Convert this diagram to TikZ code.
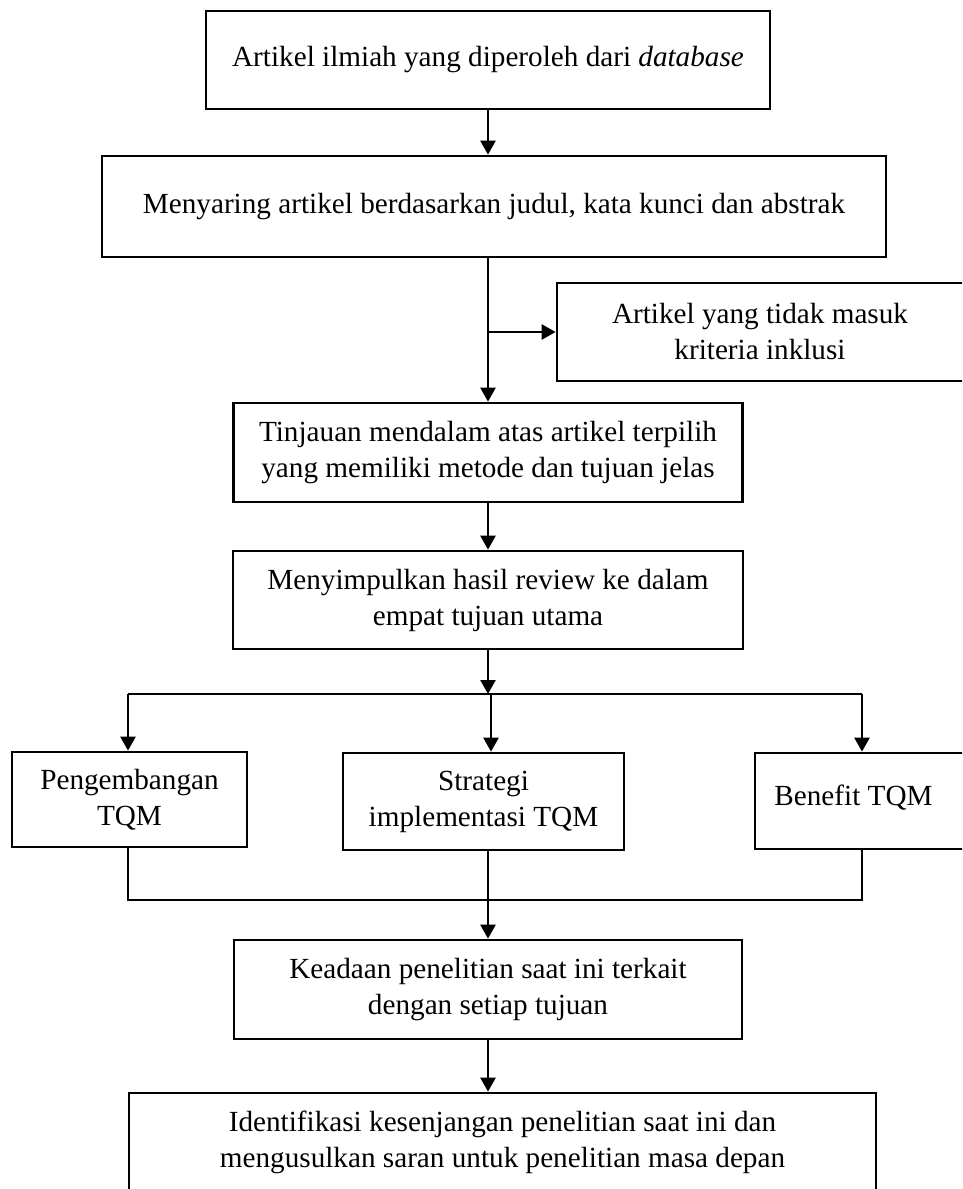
\documentclass[tikz,border=0pt]{standalone}
\usepackage{fontspec}
\setmainfont{Liberation Serif}
\usetikzlibrary{arrows.meta}
\begin{document}
\begin{tikzpicture}[x=1pt,y=-1pt,
  box/.style={draw, line width=2.7pt, rectangle, align=center, inner sep=0pt,
              font=\fontsize{29.2}{36}\selectfont},
  conn/.style={line width=2.5pt},
  arr/.style={conn, -{Triangle[length=14pt,width=15pt]}}]
\useasboundingbox (0,0) rectangle (962,1189);
\clip (0,0) rectangle (962,1189);

\node[box, minimum width=564pt, minimum height=98pt] (b1) at (488,60)
  {Artikel ilmiah yang diperoleh dari \textit{database}};
\node[box, minimum width=784pt, minimum height=101pt] (b2) at (494,206.5)
  {Menyaring artikel berdasarkan judul, kata kunci dan abstrak};
\node[box, minimum width=410pt, minimum height=98pt] (side) at (762,332)
  {Artikel yang tidak masuk\hspace*{4pt}\\kriteria inklusi\hspace*{4pt}};
\node[box, minimum width=509pt, minimum height=99pt] (b3) at (488,452.5)
  {Tinjauan mendalam atas artikel terpilih\\yang memiliki metode dan tujuan jelas};
\node[box, minimum width=510pt, minimum height=98pt] (b4) at (488,600)
  {Menyimpulkan hasil review ke dalam\\empat tujuan utama};
\node[box, minimum width=235pt, minimum height=95pt] (bl) at (129.5,799.5)
  {Pengembangan\\TQM};
\node[box, minimum width=281pt, minimum height=97pt] (bm) at (483.5,801.5)
  {Strategi\\implementasi TQM};
\node[box, minimum width=212pt, minimum height=96pt] (br) at (861,801)
  {\raisebox{12pt}{Benefit TQM}\hspace*{15pt}};
\node[box, minimum width=508pt, minimum height=99pt] (b5) at (488,989.5)
  {Keadaan penelitian saat ini terkait\\dengan setiap tujuan};
\node[box, minimum width=747pt, minimum height=98pt] (b6) at (502.5,1142)
  {Identifikasi kesenjangan penelitian saat ini dan\\mengusulkan saran untuk penelitian masa depan};

% connectors
\draw[arr] (b1.south) -- (b1.south |- b2.north);
\draw[arr] (b3.north |- b2.south) -- (b3.north);
\coordinate (j1) at (b3.north |- side.west);
\draw[arr] (j1) -- (side.west);
\draw[arr] (b3.south) -- (b4.north);

\coordinate (s0) at (488,694);
\coordinate (sL) at (128,694);
\coordinate (sM) at (491,694);
\coordinate (sR) at (862,694);
\draw[arr] (b4.south) -- (s0);
\draw[conn] (sL) -- (sR);
\draw[arr] (sL) -- (sL |- bl.north);
\draw[arr] (sM) -- (sM |- bm.north);
\draw[arr] (sR) -- (sR |- br.north);

\coordinate (mL) at (128,900);
\coordinate (mR) at (862,900);
\draw[conn] (mL |- bl.south) -- (mL) -- (mR) -- (mR |- br.south);
\draw[arr] (b5.north |- bm.south) -- (b5.north);
\draw[arr] (b5.south) -- (b5.south |- b6.north);
\end{tikzpicture}
\end{document}
